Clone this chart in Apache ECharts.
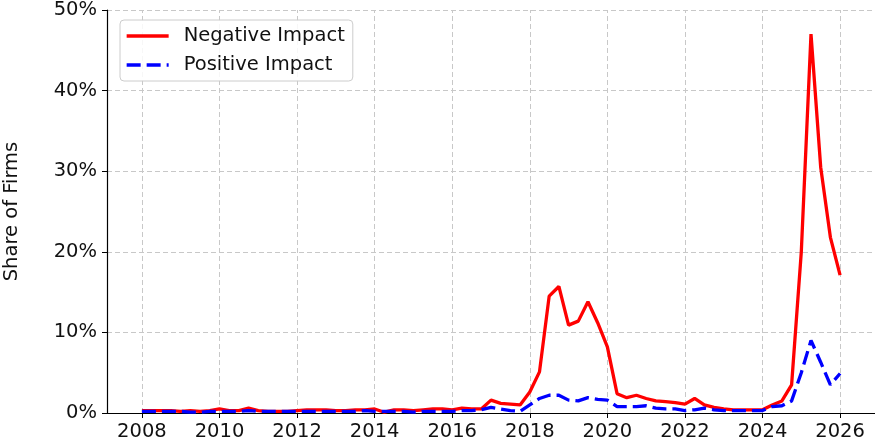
<!DOCTYPE html>
<html>
<head>
<meta charset="utf-8">
<script src="https://cdn.jsdelivr.net/npm/echarts@6/dist/echarts.min.js"></script>
<style>
  html, body { margin: 0; padding: 0; background: #fff; }
  #chart { width: 875px; height: 447px; }
</style>
</head>
<body>
<div id="chart"></div>
<script>
// quarterly observations, first one is 2008 Q1 (plotted at 2008.0)
const startYear = 2008;
const step = 0.25;

const negativeImpact = [
  0.3, 0.3, 0.3, 0.3,
  0.2, 0.3, 0.2, 0.3,
  0.5, 0.3, 0.3, 0.6,
  0.3, 0.2, 0.2, 0.2,
  0.3, 0.4, 0.4, 0.4,
  0.3, 0.3, 0.4, 0.4,
  0.5, 0.1, 0.4, 0.4,
  0.3, 0.4, 0.5, 0.5,
  0.4, 0.6, 0.5, 0.5,
  1.6, 1.2, 1.1, 1.0,
  2.6, 5.1, 14.5, 15.7,
  10.9, 11.4, 13.8, 11.2,
  8.2, 2.4, 1.9, 2.2,
  1.8, 1.5, 1.4, 1.3,
  1.1, 1.8, 1.0, 0.7,
  0.5, 0.4, 0.4, 0.4,
  0.4, 1.0, 1.5, 3.5,
  20.0, 47.0, 30.5, 21.8,
  17.1
];

const positiveImpact = [
  0.2, 0.2, 0.2, 0.2,
  0.2, 0.1, 0.1, 0.2,
  0.2, 0.2, 0.2, 0.3,
  0.2, 0.2, 0.2, 0.2,
  0.2, 0.2, 0.2, 0.2,
  0.2, 0.2, 0.2, 0.3,
  0.2, 0.2, 0.2, 0.2,
  0.1, 0.2, 0.2, 0.2,
  0.2, 0.3, 0.3, 0.4,
  0.7, 0.5, 0.3, 0.2,
  1.0, 1.8, 2.2, 2.2,
  1.6, 1.5, 1.9, 1.7,
  1.6, 0.8, 0.8, 0.8,
  0.9, 0.6, 0.5, 0.5,
  0.3, 0.4, 0.6, 0.4,
  0.3, 0.3, 0.3, 0.3,
  0.3, 0.8, 0.9, 1.5,
  5.0, 9.0, 6.3, 3.5,
  4.9
];

const xTicks = [2008, 2010, 2012, 2014, 2016, 2018, 2020, 2022, 2024, 2026];

const toPoints = (vals) => vals.map((v, i) => [startYear + i * step, v]);

const font = "'DejaVu Sans', sans-serif";
const gridLineStyle = { color: '#c8c8c8', type: [5, 3], width: 1 };

const myChart = echarts.init(document.getElementById('chart'));

const option = {
  animation: false,
  textStyle: { fontFamily: font },
  grid: { left: 107, right: 0, top: 10, bottom: 34, outerBoundsMode: 'none' },
  legend: {
    orient: 'vertical',
    left: 120,
    top: 20,
    padding: [6, 8, 6, 5],
    itemWidth: 42,
    itemHeight: 20,
    itemGap: 9,
    backgroundColor: 'rgba(255,255,255,0.85)',
    borderColor: '#cccccc',
    borderWidth: 1,
    borderRadius: 4,
    itemStyle: { color: 'transparent', borderWidth: 0, opacity: 0 },
    lineStyle: { width: 3.3 },
    textStyle: { fontFamily: font, fontSize: 19.5, color: '#111', padding: [0, 0, 0, 10] },
    data: ['Negative Impact', 'Positive Impact']
  },
  xAxis: {
    type: 'value',
    min: 2007.1,
    max: 2026.9,
    axisLine: { show: true, lineStyle: { color: '#000', width: 1.2 } },
    axisTick: { show: true, length: 5, lineStyle: { color: '#000' }, customValues: xTicks },
    axisLabel: {
      fontFamily: font, fontSize: 19.5, color: '#111', margin: 9,
      customValues: xTicks,
      formatter: (v) => String(v)
    },
    splitLine: { show: false }
  },
  yAxis: {
    type: 'value',
    min: 0,
    max: 50,
    interval: 10,
    name: 'Share of Firms',
    nameLocation: 'middle',
    nameGap: 85,
    nameTextStyle: { fontFamily: font, fontSize: 19.5, color: '#111' },
    axisLine: { show: true, lineStyle: { color: '#000', width: 1.2 } },
    axisTick: { show: true, length: 5, lineStyle: { color: '#000' } },
    axisLabel: { fontFamily: font, fontSize: 19.5, color: '#111', margin: 10, formatter: '{value}%' },
    splitLine: { show: true, lineStyle: gridLineStyle }
  },
  series: [
    {
      // vertical grid lines at the year ticks
      name: 'xgrid',
      type: 'line',
      data: [],
      z: 1,
      markLine: {
        silent: true,
        symbol: 'none',
        animation: false,
        z: 1,
        label: { show: false },
        lineStyle: gridLineStyle,
        data: xTicks.map(x => ({ xAxis: x }))
      }
    },
    {
      name: 'Negative Impact',
      type: 'line',
      showSymbol: false,
      symbol: 'none',
      data: toPoints(negativeImpact),
      itemStyle: { color: '#ff0000' },
      lineStyle: { color: '#ff0000', width: 3.3 },
      z: 3
    },
    {
      name: 'Positive Impact',
      type: 'line',
      showSymbol: false,
      symbol: 'none',
      data: toPoints(positiveImpact),
      itemStyle: { color: '#0000ff' },
      lineStyle: { color: '#0000ff', width: 3.3, type: [14, 6] },
      z: 4
    }
  ]
};

option && myChart.setOption(option);
</script>
</body>
</html>
